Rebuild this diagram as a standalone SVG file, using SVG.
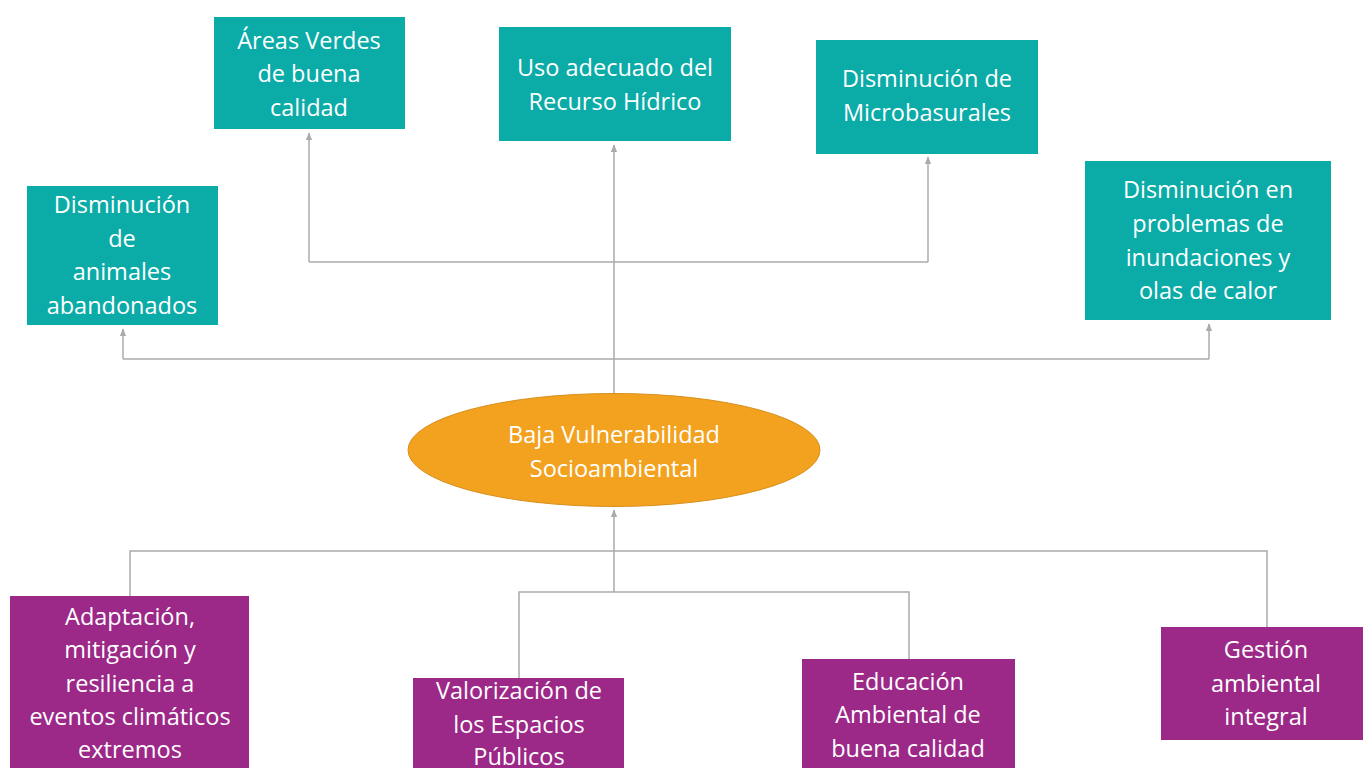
<svg xmlns="http://www.w3.org/2000/svg" width="1363" height="768" viewBox="0 0 1363 768">
<style>
.teal{fill:#0BABA8;}
.purple{fill:#9C2888;}
.t{font-family:"Open Sans","Liberation Sans",sans-serif;font-size:23.5px;fill:#ffffff;text-anchor:middle;}
.c{fill:none;stroke:#ABABAB;stroke-width:1.5;}
</style>
<defs>
<marker id="ah2" viewBox="0 0 10 10" refX="9" refY="5" markerWidth="8" markerHeight="8" orient="auto" markerUnits="userSpaceOnUse">
<path d="M0,1 L10,5 L0,9 z" fill="#ABABAB"/>
</marker>
</defs>
<rect width="1363" height="768" fill="#ffffff"/>
<g id="connectors">
<path class="c" d="M614,393 V145" marker-end="url(#ah2)"/>
<path class="c" d="M309,262 H928"/>
<path class="c" d="M309,262 V133" marker-end="url(#ah2)"/>
<path class="c" d="M928,262 V157" marker-end="url(#ah2)"/>
<path class="c" d="M123,359 H1209"/>
<path class="c" d="M123,359 V329" marker-end="url(#ah2)"/>
<path class="c" d="M1209,359 V324" marker-end="url(#ah2)"/>
<path class="c" d="M614,592 V510" marker-end="url(#ah2)"/>
<path class="c" d="M130,596 V551 H1267 V627"/>
<path class="c" d="M519,678 V592 H909 V659"/>
</g>
<g id="n-areas">
<rect class="teal" x="214" y="17" width="191" height="112"/>
<text class="t" x="309" y="49">Áreas Verdes</text>
<text class="t" x="309" y="82">de buena</text>
<text class="t" x="309" y="116">calidad</text>
</g>
<g id="n-uso">
<rect class="teal" x="499" y="27" width="232" height="114"/>
<text class="t" x="615" y="76">Uso adecuado del</text>
<text class="t" x="615" y="110">Recurso Hídrico</text>
</g>
<g id="n-micro">
<rect class="teal" x="816" y="40" width="222" height="114"/>
<text class="t" x="927" y="87">Disminución de</text>
<text class="t" x="927" y="121">Microbasurales</text>
</g>
<g id="n-animales">
<rect class="teal" x="27" y="186" width="191" height="139"/>
<text class="t" x="122" y="213">Disminución</text>
<text class="t" x="122" y="247">de</text>
<text class="t" x="122" y="280">animales</text>
<text class="t" x="122" y="314">abandonados</text>
</g>
<g id="n-inundaciones">
<rect class="teal" x="1085" y="161" width="246" height="159"/>
<text class="t" x="1208" y="198">Disminución en</text>
<text class="t" x="1208" y="232">problemas de</text>
<text class="t" x="1208" y="266">inundaciones y</text>
<text class="t" x="1208" y="299">olas de calor</text>
</g>
<g id="n-baja">
<ellipse cx="614" cy="450" rx="206" ry="56.5" fill="#F3A21F" stroke="#D8901E" stroke-width="1"/>
<text class="t" x="614" y="443">Baja Vulnerabilidad</text>
<text class="t" x="614" y="477">Socioambiental</text>
</g>
<g id="n-adaptacion">
<rect class="purple" x="10" y="596" width="239" height="180"/>
<text class="t" x="130" y="625">Adaptación,</text>
<text class="t" x="130" y="658">mitigación y</text>
<text class="t" x="130" y="692">resiliencia a</text>
<text class="t" x="130" y="725">eventos climáticos</text>
<text class="t" x="130" y="758">extremos</text>
</g>
<g id="n-valorizacion">
<rect class="purple" x="413" y="678" width="211" height="100"/>
<text class="t" x="519" y="699">Valorización de</text>
<text class="t" x="519" y="733">los Espacios</text>
<text class="t" x="519" y="765">Públicos</text>
</g>
<g id="n-educacion">
<rect class="purple" x="802" y="659" width="213" height="120"/>
<text class="t" x="908" y="690">Educación</text>
<text class="t" x="908" y="723">Ambiental de</text>
<text class="t" x="908" y="757">buena calidad</text>
</g>
<g id="n-gestion">
<rect class="purple" x="1161" y="627" width="210" height="113"/>
<text class="t" x="1266" y="658">Gestión</text>
<text class="t" x="1266" y="692">ambiental</text>
<text class="t" x="1266" y="725">integral</text>
</g>
</svg>
